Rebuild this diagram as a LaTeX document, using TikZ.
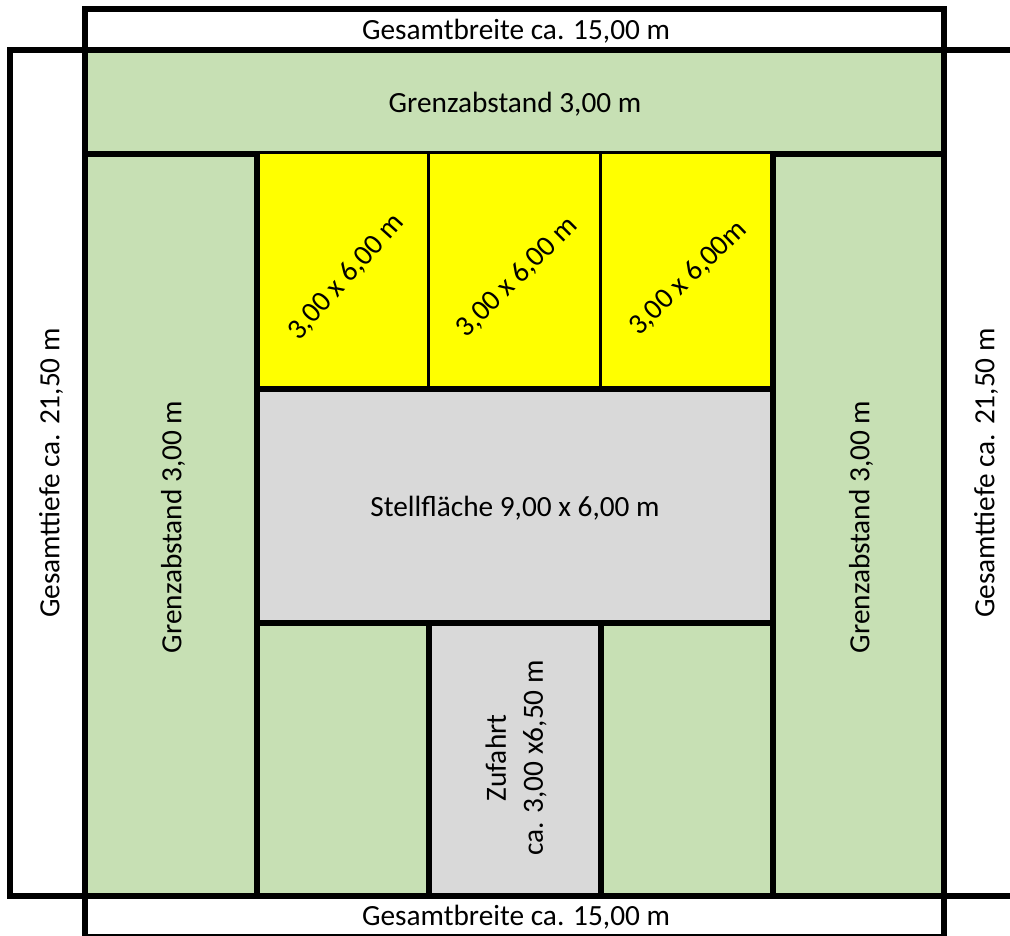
\documentclass[tikz,border=0pt]{standalone}
\usepackage{fontspec}
\setmainfont{Carlito}
\usetikzlibrary{positioning}

\definecolor{grenzgreen}{RGB}{199,224,180}
\definecolor{flaechegray}{RGB}{217,217,217}
\definecolor{stellyellow}{RGB}{255,255,0}

\begin{document}
\begin{tikzpicture}[x=1pt,y=-1pt]
	% Define styles
	\tikzset{plan/.style={line width=6pt, draw=black, line join=miter},
		thinline/.style={line width=3pt, draw=black},
		label/.style={font=\fontsize{29.3}{37}\selectfont, inner sep=0pt, align=center},
		slanted/.style={label, font=\fontsize{29}{37}\selectfont}}
	\useasboundingbox (0,0) rectangle (1010,936);
	
	% Fill areas
	\fill [grenzgreen] (85,50) rectangle (944,896);
	\fill [flaechegray] (257,389) rectangle (773,623);
	\fill [flaechegray] (429,623) rectangle (601,896);
	
	% Outer frames
	\draw [plan] (85,50) |- (944,9) -- (944,50);
	\draw [plan] (85,896) |- (944,937) -- (944,896);
	\draw [plan] (1020,50) -- (10,50) -- (10,896) -- (1020,896);
	\draw [plan] (85,50) -- (85,896);
	\draw [plan] (944,50) -- (944,896);
	
	% Inner lines
	\draw [plan] (85,154) -- (944,154);
	\fill [stellyellow] (257,154) rectangle (773,389);
	\draw [plan] (257,151) -- (257,896);
	\draw [plan] (773,154) -- (773,896);
	\draw [plan] (254,389) -- (776,389);
	\draw [plan] (257,623) -- (773,623);
	\draw [plan] (429,623) -- (429,896);
	\draw [plan] (601,623) -- (601,896);
	\draw [thinline] (428.5,154) -- (428.5,389);
	\draw [thinline] (600.5,154) -- (600.5,389);
	
	% Place labels
	\node [label] (breiteoben) at (516,31) {Gesamtbreite ca. 15,00 m};
	\node [label] (breiteunten) at (516,917) {Gesamtbreite ca. 15,00 m};
	\node [label] (grenzoben) at (515,104) {Grenzabstand 3,00 m};
	\node [label, rotate=90] (tiefelinks) at (51,473) {Gesamttiefe ca. 21,50 m};
	\node [label, rotate=90] (tieferechts) at (986,473) {Gesamttiefe ca. 21,50 m};
	\node [label, rotate=90] (grenzlinks) at (173,527) {Grenzabstand 3,00 m};
	\node [label, rotate=90] (grenzrechts) at (861,527) {Grenzabstand 3,00 m};
	\node [slanted, rotate=48] (stellplatzA) at (346,277) {3,00 x 6,00 m};
	\node [slanted, rotate=45] (stellplatzB) at (517,277) {3,00 x 6,00 m};
	\node [slanted, rotate=44] (stellplatzC) at (688,278) {3,00 x 6,00m};
	\node [label] (stellflaeche) at (515,508) {Stellfläche 9,00 x 6,00 m};
	\node [label, rotate=90] (zufahrt) at (516,758) {Zufahrt\\ca. 3,00 x6,50 m};
\end{tikzpicture}
\end{document}
